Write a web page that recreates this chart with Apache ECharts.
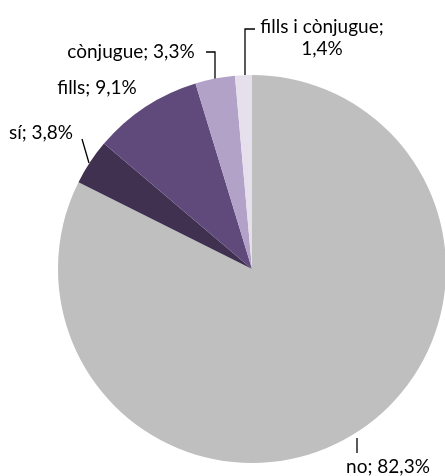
<!DOCTYPE html>
<html><head><meta charset="utf-8">
<script src="https://cdn.jsdelivr.net/npm/echarts@6/dist/echarts.min.js"></script>
<style>html,body{margin:0;padding:0;background:#fff}#c{width:445px;height:476px}</style>
</head><body><div id="c"></div>
<script>
const categories = ['no', 'sí', 'fills', 'cònjugue', 'fills i cònjugue'];
const values = [82.3, 3.8, 9.1, 3.3, 1.4];
const colors = ['#BFBFBF', '#403151', '#604A7B', '#B3A2C7', '#E5E0EC'];

// label placement (layout only)
const labelPos = {
  'no': {x: 388, y: 467, line: [[357, 438], [357, 453]]},
  'sí': {x: 41, y: 133, line: [[89, 163], [82, 139]]},
  'fills': {x: 97, y: 88, line: null},
  'cònjugue': {x: 131, y: 52, line: [[215, 79], [215, 52], [206, 52]]},
  'fills i cònjugue': {x: 322, y: 38, line: [[245, 75], [245, 29], [255, 29]]}
};

const fmt = v => v.toFixed(1).replace('.', ',') + '%';
const data = categories.map((c, i) => ({
  name: c, value: values[i], itemStyle: {color: colors[i]},
  labelLine: {show: !!labelPos[c].line}
}));

const chart = echarts.init(document.getElementById('c'), null, {renderer: 'canvas'});
chart.setOption({
  animation: false,
  series: [{
    type: 'pie',
    center: [252, 269],
    radius: 194,
    startAngle: 90,
    clockwise: true,
    data: data,
    itemStyle: {borderWidth: 0},
    label: {
      show: true, position: 'outside', overflow: 'none', width: 200,
      fontFamily: 'Lato', fontSize: 19, color: '#000', lineHeight: 22,
      formatter: p => p.name === 'fills i cònjugue'
        ? p.name + ';\n' + fmt(p.value)
        : p.name + '; ' + fmt(p.value)
    },
    labelLine: {show: true, length: 10, length2: 10, lineStyle: {color: '#000', width: 1.3}},
    labelLayout: function (params) {
      const name = categories[params.dataIndex];
      const lp = labelPos[name];
      const r = {x: lp.x, y: lp.y, align: 'center', verticalAlign: 'middle'};
      if (lp.line) r.labelLinePoints = lp.line;
      return r;
    }
  }]
});
</script></body></html>
